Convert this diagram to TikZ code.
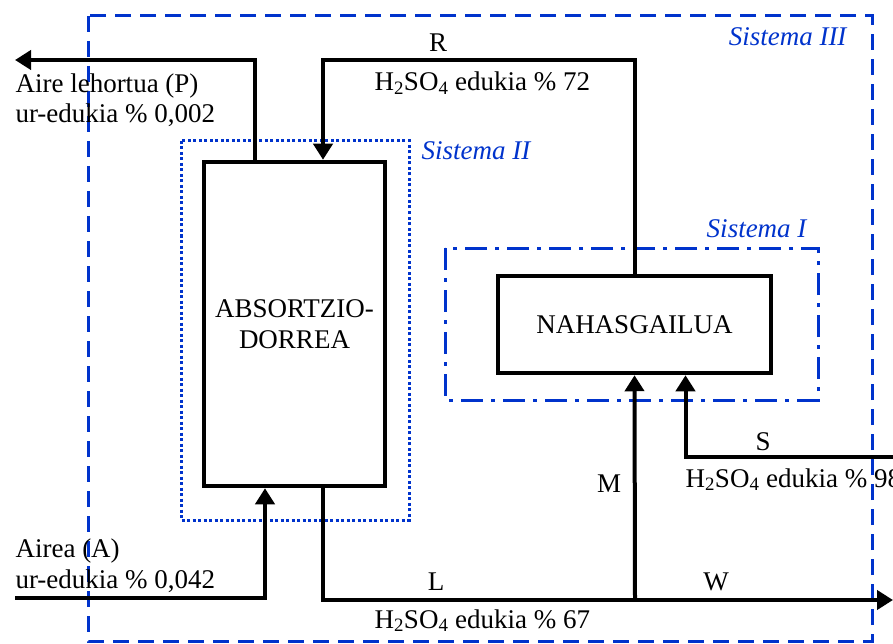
\documentclass[tikz,border=0pt]{standalone}
\usepackage{fontspec}
\setmainfont{Liberation Serif}
\usetikzlibrary{arrows.meta}
\definecolor{sysblue}{RGB}{0,51,204}
\newcommand{\azido}[1]{H\textsubscript{2}SO\textsubscript{4} edukia \% #1}
\newcommand{\lab}[3]{\node[anchor=base west] (#1) at (#2) {#3}}

\begin{document}
\begin{tikzpicture}[x=1pt, y=-1pt,
	font=\fontsize{27}{31}\selectfont,
	unit/.style = {draw, line width=4.5pt, align=center, fill=white},
	flow/.style = {line width=4pt, -{Triangle[width=19pt,length=16pt]}},
	sysI/.style = {draw=sysblue, line width=3pt, dash pattern=on 22pt off 8pt on 4pt off 8pt},
	sysII/.style = {draw=sysblue, line width=3pt, dash pattern=on 3pt off 2.5pt},
	sysIII/.style = {draw=sysblue, line width=3pt, dash pattern=on 16pt off 9pt},
	syslab/.style = {text=sysblue, font=\fontsize{27}{31}\selectfont\itshape}]
\useasboundingbox (0,0) rectangle (893,644);
%Systems
	\draw[sysIII] (88,16) rectangle (872,641);
	\draw[sysII] (181,141) rectangle (409,520);
	\draw[sysI] (445,248) rectangle (818,400);
	\node[syslab, anchor=base east] (s3) at (850,46) {Sistema III};
	\node[syslab, anchor=base west] (s2) at (418,160) {Sistema II};
	\node[syslab, anchor=base east] (s1) at (810,237) {Sistema I};
%Units
	\node[unit, minimum width=181pt, minimum height=324pt] (tower) at (294.5,324) {ABSORTZIO-\\DORREA};
	\node[unit, minimum width=273pt, minimum height=97pt] (mixer) at (634.5,324.5) {NAHASGAILUA};
%Streams
	\coordinate (Pout) at (15,60);
	\coordinate (Rturn) at (323,60);
	\coordinate (Ain) at (15,598);
	\coordinate (Wout) at (893,600);
	\coordinate (Mjoin) at (635,600);
	\coordinate (Sin) at (893,457);
	\draw[flow] ([xshift=-39.5pt]tower.north) |- (Pout);
	\draw[flow] (mixer.north) |- (Rturn) -- ([xshift=28.5pt]tower.north);
	\draw[flow] (Ain) -| ([xshift=-29.5pt]tower.south);
	\draw[flow] ([xshift=28.5pt]tower.south) |- (Wout);
	\draw[flow] (Mjoin) -- (mixer.south);
	\draw[flow] (Sin) -| ([xshift=51pt]mixer.south);
%Labels
	\lab{lP}{12,93}{Aire lehortua (P)};
	\lab{lPw}{12,123}{ur-edukia \% 0,002};
	\node[anchor=base] (lR) at (438,52) {R};
	\lab{lRc}{371,91}{\azido{72}};
	\lab{lA}{12,557}{Airea (A)};
	\lab{lAw}{12,588}{ur-edukia \% 0,042};
	\node[anchor=base] (lL) at (436,590) {L};
	\lab{lLc}{371,628}{\azido{67}};
	\node[anchor=base] (lM) at (609,492) {M};
	\node[anchor=base] (lW) at (716,590) {W};
	\node[anchor=base] (lS) at (763,450) {S};
	\lab{lSc}{682,487}{\azido{98}};
\end{tikzpicture}
\end{document}
